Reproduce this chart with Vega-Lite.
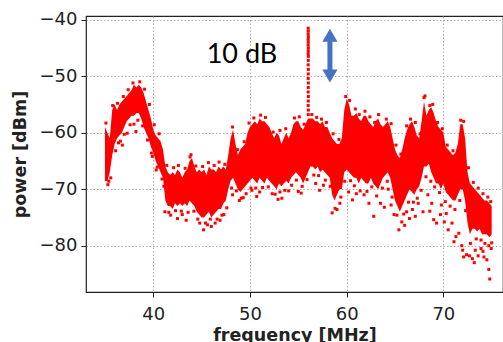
{
  "$schema": "https://vega.github.io/schema/vega-lite/v6.json",
  "width": 417,
  "height": 276,
  "autosize": "none",
  "padding": {"left": 86, "top": 16, "right": 0, "bottom": 50},
  "background": "white",
  "config": {
    "view": {"stroke": "#222222", "strokeWidth": 1.2},
    "axis": {
      "domain": false,
      "grid": true,
      "gridColor": "#b0b0b0",
      "gridDash": [1.5, 2],
      "gridWidth": 1,
      "tickColor": "#222222",
      "tickSize": 5,
      "tickWidth": 1,
      "labelFont": "DejaVu Sans",
      "labelFontSize": 18,
      "labelColor": "#222222",
      "titleFont": "DejaVu Sans",
      "titleFontSize": 17.5,
      "titleFontWeight": "bold",
      "titleColor": "#222222"
    }
  },
  "datasets": {
    "band": [
      {"f":35.0,"hi":-59,"lo":-68},{"f":35.25,"hi":-60,"lo":-68.5},{"f":35.5,"hi":-61,"lo":-67},{"f":35.75,"hi":-56,"lo":-64},
      {"f":36.0,"hi":-55,"lo":-62},{"f":36.25,"hi":-56,"lo":-61},{"f":36.5,"hi":-55,"lo":-60.5},{"f":36.75,"hi":-54.5,"lo":-60},
      {"f":37.0,"hi":-54,"lo":-59},{"f":37.25,"hi":-53.5,"lo":-58},{"f":37.5,"hi":-53,"lo":-57.5},{"f":37.75,"hi":-52.5,"lo":-57},
      {"f":38.0,"hi":-51.5,"lo":-57},{"f":38.25,"hi":-52,"lo":-56.5},{"f":38.5,"hi":-51.5,"lo":-56.5},{"f":38.75,"hi":-52,"lo":-57.5},
      {"f":39.0,"hi":-53,"lo":-59},{"f":39.25,"hi":-54.5,"lo":-60},{"f":39.5,"hi":-56,"lo":-61},{"f":39.75,"hi":-57.5,"lo":-62.5},
      {"f":40.0,"hi":-59.5,"lo":-63.5},{"f":40.25,"hi":-60.5,"lo":-65},{"f":40.5,"hi":-61,"lo":-66},{"f":40.75,"hi":-61.5,"lo":-67},
      {"f":41.0,"hi":-63,"lo":-68},{"f":41.25,"hi":-66,"lo":-72},{"f":41.5,"hi":-67,"lo":-73},{"f":41.75,"hi":-67.5,"lo":-73},
      {"f":42.0,"hi":-67,"lo":-73.5},{"f":42.25,"hi":-67.5,"lo":-72.5},{"f":42.5,"hi":-66.5,"lo":-73},{"f":42.75,"hi":-67,"lo":-72.5},
      {"f":43.0,"hi":-68,"lo":-73},{"f":43.25,"hi":-67,"lo":-72.5},{"f":43.5,"hi":-66.5,"lo":-73},{"f":43.75,"hi":-65,"lo":-72},
      {"f":44.0,"hi":-64.5,"lo":-72.5},{"f":44.25,"hi":-66,"lo":-73},{"f":44.5,"hi":-67,"lo":-74},{"f":44.75,"hi":-66.5,"lo":-74.5},
      {"f":45.0,"hi":-67,"lo":-75},{"f":45.25,"hi":-66.5,"lo":-75},{"f":45.5,"hi":-67.5,"lo":-74.5},{"f":45.75,"hi":-66,"lo":-74},
      {"f":46.0,"hi":-66.5,"lo":-75},{"f":46.25,"hi":-66.5,"lo":-74.5},{"f":46.5,"hi":-67,"lo":-74},{"f":46.75,"hi":-66,"lo":-73.5},
      {"f":47.0,"hi":-66.5,"lo":-73.5},{"f":47.25,"hi":-66,"lo":-72.5},{"f":47.5,"hi":-66.5,"lo":-72},{"f":47.75,"hi":-64,"lo":-70},
      {"f":48.0,"hi":-61,"lo":-68.5},{"f":48.25,"hi":-59.5,"lo":-68},{"f":48.5,"hi":-62,"lo":-69},{"f":48.75,"hi":-64,"lo":-70},
      {"f":49.0,"hi":-63,"lo":-70.5},{"f":49.25,"hi":-62.5,"lo":-70},{"f":49.5,"hi":-62,"lo":-69.5},{"f":49.75,"hi":-60,"lo":-69},
      {"f":50.0,"hi":-59,"lo":-68.5},{"f":50.25,"hi":-58.5,"lo":-68},{"f":50.5,"hi":-58,"lo":-68.5},{"f":50.75,"hi":-58.5,"lo":-69},
      {"f":51.0,"hi":-57.5,"lo":-68},{"f":51.25,"hi":-58,"lo":-68.5},{"f":51.5,"hi":-58,"lo":-69},{"f":51.75,"hi":-58.5,"lo":-68},
      {"f":52.0,"hi":-59,"lo":-68.5},{"f":52.25,"hi":-60,"lo":-69},{"f":52.5,"hi":-61,"lo":-69.5},{"f":52.75,"hi":-60,"lo":-70},
      {"f":53.0,"hi":-60.5,"lo":-69},{"f":53.25,"hi":-62,"lo":-69.5},{"f":53.5,"hi":-61,"lo":-69},{"f":53.75,"hi":-60,"lo":-68.5},
      {"f":54.0,"hi":-61,"lo":-69},{"f":54.25,"hi":-60,"lo":-68},{"f":54.5,"hi":-58.5,"lo":-67.5},{"f":54.75,"hi":-58,"lo":-67},
      {"f":55.0,"hi":-58,"lo":-67.5},{"f":55.25,"hi":-59,"lo":-68},{"f":55.5,"hi":-59.5,"lo":-69},{"f":55.75,"hi":-58.5,"lo":-68},
      {"f":56.0,"hi":-57.5,"lo":-67},{"f":56.25,"hi":-57.5,"lo":-66},{"f":56.5,"hi":-57.5,"lo":-66},{"f":56.75,"hi":-58,"lo":-66.5},
      {"f":57.0,"hi":-58,"lo":-66},{"f":57.25,"hi":-58.5,"lo":-67},{"f":57.5,"hi":-58,"lo":-66.5},{"f":57.75,"hi":-59,"lo":-67},
      {"f":58.0,"hi":-59,"lo":-67.5},{"f":58.25,"hi":-60,"lo":-68},{"f":58.5,"hi":-61,"lo":-71},{"f":58.75,"hi":-61.5,"lo":-72},
      {"f":59.0,"hi":-62,"lo":-71},{"f":59.25,"hi":-62,"lo":-70},{"f":59.5,"hi":-61,"lo":-70},{"f":59.75,"hi":-56,"lo":-67},
      {"f":60.0,"hi":-54,"lo":-66.5},{"f":60.25,"hi":-55,"lo":-67},{"f":60.5,"hi":-57,"lo":-67.5},{"f":60.75,"hi":-57,"lo":-68},
      {"f":61.0,"hi":-56.5,"lo":-68},{"f":61.25,"hi":-57.5,"lo":-69},{"f":61.5,"hi":-58,"lo":-68},{"f":61.75,"hi":-57,"lo":-68.5},
      {"f":62.0,"hi":-57,"lo":-69},{"f":62.25,"hi":-58,"lo":-69},{"f":62.5,"hi":-58.5,"lo":-68},{"f":62.75,"hi":-59,"lo":-69},
      {"f":63.0,"hi":-58,"lo":-69.5},{"f":63.25,"hi":-57.5,"lo":-70},{"f":63.5,"hi":-58.5,"lo":-69},{"f":63.75,"hi":-59,"lo":-68},
      {"f":64.0,"hi":-58.5,"lo":-67.5},{"f":64.25,"hi":-58,"lo":-67},{"f":64.5,"hi":-59,"lo":-68},{"f":64.75,"hi":-61,"lo":-70},
      {"f":65.0,"hi":-63,"lo":-72},{"f":65.25,"hi":-64,"lo":-73},{"f":65.5,"hi":-64.5,"lo":-74},{"f":65.75,"hi":-63,"lo":-73},
      {"f":66.0,"hi":-61,"lo":-72},{"f":66.25,"hi":-59.5,"lo":-71},{"f":66.5,"hi":-58.5,"lo":-70},{"f":66.75,"hi":-58,"lo":-70.5},
      {"f":67.0,"hi":-59,"lo":-71},{"f":67.25,"hi":-60.5,"lo":-70},{"f":67.5,"hi":-61,"lo":-69.5},{"f":67.75,"hi":-58,"lo":-68},
      {"f":68.0,"hi":-54.5,"lo":-66},{"f":68.25,"hi":-57,"lo":-66},{"f":68.5,"hi":-56,"lo":-65.5},{"f":68.75,"hi":-55.5,"lo":-67},
      {"f":69.0,"hi":-56.5,"lo":-68},{"f":69.25,"hi":-58,"lo":-69},{"f":69.5,"hi":-59,"lo":-69},{"f":69.75,"hi":-59.5,"lo":-70},
      {"f":70.0,"hi":-60,"lo":-69},{"f":70.25,"hi":-62.5,"lo":-70.5},{"f":70.5,"hi":-63,"lo":-71},{"f":70.75,"hi":-63.5,"lo":-71.5},
      {"f":71.0,"hi":-64,"lo":-72},{"f":71.25,"hi":-63.5,"lo":-72},{"f":71.5,"hi":-62,"lo":-71},{"f":71.75,"hi":-58.5,"lo":-70},
      {"f":72.0,"hi":-58.5,"lo":-70},{"f":72.25,"hi":-61,"lo":-72},{"f":72.5,"hi":-67,"lo":-76},{"f":72.75,"hi":-69,"lo":-78},
      {"f":73.0,"hi":-69.5,"lo":-77},{"f":73.25,"hi":-70,"lo":-77},{"f":73.5,"hi":-70.5,"lo":-77.5},{"f":73.75,"hi":-71,"lo":-77},
      {"f":74.0,"hi":-71.5,"lo":-78},{"f":74.25,"hi":-72,"lo":-78},{"f":74.5,"hi":-72,"lo":-78},{"f":74.75,"hi":-72.5,"lo":-78.5},
      {"f":75.0,"hi":-73,"lo":-78}
    ],
    "pts": [
      {"f":35.15,"p":-68.3},{"f":35.4,"p":-68.6},{"f":36.4,"p":-61.8},{"f":36.8,"p":-62.2},{"f":37.3,"p":-60.1},{"f":38.2,"p":-59.8},
      {"f":38.0,"p":-58.5},{"f":39.9,"p":-64.2},{"f":40.3,"p":-66.6},{"f":41.2,"p":-74},{"f":41.8,"p":-74.6},{"f":42.5,"p":-75.2},
      {"f":43.0,"p":-74.5},{"f":43.4,"p":-75.5},{"f":43.9,"p":-63.9},{"f":44.8,"p":-76},{"f":45.2,"p":-77.2},{"f":45.6,"p":-76.3},
      {"f":46.0,"p":-76.6},{"f":46.4,"p":-76},{"f":46.9,"p":-75.5},{"f":47.3,"p":-74.5},{"f":48.2,"p":-71},{"f":48.9,"p":-72},
      {"f":49.3,"p":-71.5},{"f":50.2,"p":-70.2},{"f":51.0,"p":-70.5},{"f":52.3,"p":-70.8},{"f":53.3,"p":-71.6},{"f":54.0,"p":-70.3},
      {"f":55.3,"p":-70.7},{"f":56.8,"p":-69},{"f":57.6,"p":-69.3},{"f":58.5,"p":-74.2},{"f":59.3,"p":-72.5},{"f":60.2,"p":-70.5},
      {"f":61.0,"p":-70.8},{"f":61.8,"p":-71},{"f":62.8,"p":-74.8},{"f":63.5,"p":-72.5},{"f":64.3,"p":-70},{"f":64.9,"p":-74.5},
      {"f":65.4,"p":-77.2},{"f":65.7,"p":-75.8},{"f":66.2,"p":-74},{"f":66.8,"p":-73.6},{"f":67.4,"p":-72.5},{"f":67.9,"p":-74},
      {"f":68.1,"p":-53.5},{"f":68.4,"p":-71},{"f":68.8,"p":-72.5},{"f":69.3,"p":-76},{"f":69.7,"p":-74.5},{"f":70.1,"p":-75.8},
      {"f":70.5,"p":-77.2},{"f":70.9,"p":-76},{"f":71.3,"p":-78.4},{"f":71.6,"p":-77.8},{"f":71.9,"p":-80},{"f":72.1,"p":-82},
      {"f":72.4,"p":-81.6},{"f":72.7,"p":-81.8},{"f":73.0,"p":-82.3},{"f":73.3,"p":-80.8},{"f":73.6,"p":-81.8},{"f":73.9,"p":-80.5},
      {"f":74.2,"p":-82},{"f":74.5,"p":-82.5},{"f":74.7,"p":-84.2},{"f":74.8,"p":-85.9},{"f":74.95,"p":-80.5},
      {"f":50.7,"p":-71.3},{"f":52.9,"p":-71.8},{"f":55.0,"p":-70.4},{"f":57.2,"p":-70.2},{"f":59.0,"p":-73.6},{"f":60.6,"p":-71.9},
      {"f":62.3,"p":-72.5},{"f":63.9,"p":-73.2},{"f":66.5,"p":-75.2},{"f":67.1,"p":-74.8},{"f":68.6,"p":-73.9},{"f":69.0,"p":-75.4},
      {"f":70.3,"p":-74.3},{"f":71.1,"p":-79.3},{"f":72.0,"p":-80.8},{"f":73.2,"p":-83},{"f":74.1,"p":-81},{"f":69.8,"p":-72.8},
      {"f":66.0,"p":-76.4},{"f":64.6,"p":-72.8},
      {"f":35.1,"p":-58.3},{"f":35.8,"p":-55.2},{"f":36.3,"p":-54.8},{"f":36.9,"p":-53.6},{"f":37.4,"p":-52.4},{"f":37.9,"p":-51.2},
      {"f":38.6,"p":-51},{"f":39.1,"p":-52.3},{"f":39.6,"p":-55},{"f":40.1,"p":-58.6},{"f":40.6,"p":-60.2},{"f":41.4,"p":-65.8},
      {"f":42.1,"p":-66.2},{"f":42.6,"p":-65.8},{"f":43.3,"p":-66.3},{"f":43.8,"p":-64.3},{"f":44.4,"p":-65.9},{"f":45.1,"p":-66},
      {"f":45.7,"p":-65.3},{"f":46.3,"p":-65.8},{"f":46.8,"p":-65.2},{"f":47.4,"p":-65.6},{"f":48.2,"p":-59},{"f":48.7,"p":-63},
      {"f":49.4,"p":-61.6},{"f":49.9,"p":-58.3},{"f":50.4,"p":-57.4},{"f":51.1,"p":-56.9},{"f":51.6,"p":-57.3},{"f":52.4,"p":-59.9},
      {"f":53.1,"p":-59.6},{"f":53.7,"p":-59.3},{"f":54.6,"p":-57.4},{"f":55.1,"p":-57.2},{"f":55.6,"p":-58.5},{"f":56.4,"p":-56.8},
      {"f":56.9,"p":-57.3},{"f":57.4,"p":-57.6},{"f":57.9,"p":-58.2},{"f":58.6,"p":-60.2},{"f":59.2,"p":-61.2},{"f":59.9,"p":-53.6},
      {"f":60.3,"p":-54.3},{"f":60.9,"p":-55.8},{"f":61.3,"p":-56.8},{"f":61.9,"p":-56.2},{"f":62.4,"p":-57.2},{"f":62.9,"p":-58.2},
      {"f":63.3,"p":-56.8},{"f":64.1,"p":-57.6},{"f":64.6,"p":-58.4},{"f":65.1,"p":-62.2},{"f":65.6,"p":-63.8},{"f":66.2,"p":-58.8},
      {"f":66.6,"p":-57.6},{"f":67.1,"p":-58.2},{"f":67.6,"p":-60.2},{"f":68.0,"p":-53.8},{"f":68.6,"p":-55.2},{"f":68.9,"p":-55},
      {"f":69.4,"p":-58.2},{"f":69.9,"p":-59.3},{"f":70.4,"p":-62.2},{"f":71.0,"p":-63.2},{"f":71.8,"p":-57.8},{"f":72.1,"p":-58},
      {"f":72.6,"p":-66.2},{"f":73.1,"p":-68.8},{"f":73.6,"p":-69.8},{"f":74.1,"p":-70.8},{"f":74.6,"p":-71.4},{"f":74.9,"p":-72.2},
      {"f":35.3,"p":-69.2},{"f":35.6,"p":-68},{"f":36.1,"p":-63.2},{"f":36.6,"p":-61.5},{"f":37.0,"p":-60.3},{"f":37.6,"p":-58.6},
      {"f":38.4,"p":-57.8},{"f":38.9,"p":-58.8},{"f":39.4,"p":-61.3},{"f":39.8,"p":-63.6},{"f":40.4,"p":-66.1},{"f":40.9,"p":-68.2},
      {"f":41.1,"p":-69.5},{"f":41.6,"p":-74.1},{"f":42.3,"p":-73.8},{"f":42.9,"p":-73.9},{"f":43.6,"p":-74.1},{"f":44.2,"p":-73.9},
      {"f":44.6,"p":-75.3},{"f":45.4,"p":-76},{"f":45.9,"p":-75.3},{"f":46.6,"p":-75.3},{"f":47.1,"p":-74.6},{"f":47.6,"p":-73.3},
      {"f":48.1,"p":-69.8},{"f":48.6,"p":-70.3},{"f":49.1,"p":-71.6},{"f":49.6,"p":-70.8},{"f":50.1,"p":-69.8},{"f":50.6,"p":-69.8},
      {"f":51.3,"p":-69.7},{"f":51.9,"p":-69.6},{"f":52.6,"p":-70.9},{"f":53.1,"p":-70.5},{"f":53.6,"p":-70.2},{"f":54.3,"p":-69.3},
      {"f":54.8,"p":-68.4},{"f":55.4,"p":-69.5},{"f":55.9,"p":-68.3},{"f":56.6,"p":-67.5},{"f":57.1,"p":-67.6},{"f":57.8,"p":-68.4},
      {"f":58.3,"p":-69.5},{"f":58.8,"p":-73.4},{"f":59.4,"p":-71.4},{"f":59.8,"p":-68.6},{"f":60.4,"p":-68.5},{"f":60.8,"p":-69.4},
      {"f":61.4,"p":-70.3},{"f":62.1,"p":-70.4},{"f":62.6,"p":-69.6},{"f":63.1,"p":-71.2},{"f":63.7,"p":-69.8},{"f":64.2,"p":-68.6},
      {"f":64.7,"p":-71.4},{"f":65.2,"p":-74.6},{"f":65.9,"p":-74.4},{"f":66.4,"p":-72.3},{"f":66.9,"p":-72.3},{"f":67.3,"p":-71.6},
      {"f":67.7,"p":-70.2},{"f":68.2,"p":-67.8},{"f":68.7,"p":-68.6},{"f":69.1,"p":-69.6},{"f":69.6,"p":-70.6},{"f":70.2,"p":-72.2},
      {"f":70.7,"p":-73},{"f":71.2,"p":-73.6},{"f":71.7,"p":-72},{"f":72.3,"p":-73.8},{"f":72.8,"p":-79.6},{"f":73.4,"p":-78.8},
      {"f":73.9,"p":-79},{"f":74.3,"p":-79.6},{"f":74.7,"p":-80},{"f":75.0,"p":-79.5},
      {"f":56.02,"p":-41.5},{"f":56.03,"p":-42},{"f":56.02,"p":-42.5},{"f":56.04,"p":-43},{"f":56.02,"p":-43.5},{"f":56.03,"p":-44},
      {"f":56.02,"p":-44.5},{"f":56.04,"p":-45},{"f":56.03,"p":-45.5},{"f":56.02,"p":-46},{"f":56.04,"p":-46.5},{"f":56.03,"p":-47.2},
      {"f":56.02,"p":-48},{"f":56.04,"p":-48.8},{"f":56.03,"p":-49.6},{"f":56.02,"p":-50.4},{"f":56.04,"p":-51.2},{"f":56.03,"p":-52},
      {"f":56.02,"p":-52.8},{"f":56.04,"p":-53.6},{"f":56.03,"p":-54.4},{"f":56.02,"p":-55.2},{"f":56.04,"p":-56},{"f":56.03,"p":-56.8}
    ]
  },
  "layer": [
    {
      "data": {"name": "band"},
      "mark": {"type": "area", "color": "#ff0000", "opacity": 1, "interpolate": "linear"},
      "encoding": {
        "x": {"field": "f", "type": "quantitative", "scale": {"domain": [33.04, 76.17], "nice": false, "zero": false},
          "axis": {"values": [40, 50, 60, 70], "title": "frequency [MHz]", "labelPadding": 8, "titleY": 48, "titleBaseline": "alphabetic"}},
        "y": {"field": "hi", "type": "quantitative", "scale": {"domain": [-88.2, -39.35], "nice": false, "zero": false},
          "axis": {"values": [-80, -70, -60, -50, -40], "title": "power [dBm]", "labelPadding": 4, "titleX": -66, "titleY": 138, "titleAngle": -90, "titleAlign": "center", "titleBaseline": "middle"}},
        "y2": {"field": "lo"}
      }
    },
    {
      "data": {"name": "pts"},
      "mark": {"type": "point", "filled": true, "color": "#ff0000", "size": 9, "opacity": 1, "shape": "square"},
      "encoding": {
        "x": {"field": "f", "type": "quantitative"},
        "y": {"field": "p", "type": "quantitative"}
      }
    },
    {
      "data": {"values": [{"f": 58.27, "a": -42.8, "b": -49.9}]},
      "mark": {"type": "rule", "color": "#4472c4", "strokeWidth": 5},
      "encoding": {
        "x": {"field": "f", "type": "quantitative"},
        "y": {"field": "a", "type": "quantitative"},
        "y2": {"field": "b"}
      }
    },
    {
      "data": {"values": [{"f": 58.27, "p": -42.76}]},
      "mark": {"type": "point", "filled": true, "color": "#4472c4", "opacity": 1, "shape": "triangle-up", "size": 230},
      "encoding": {
        "x": {"field": "f", "type": "quantitative"},
        "y": {"field": "p", "type": "quantitative"}
      }
    },
    {
      "data": {"values": [{"f": 58.27, "p": -49.96}]},
      "mark": {"type": "point", "filled": true, "color": "#4472c4", "opacity": 1, "shape": "triangle-down", "size": 230},
      "encoding": {
        "x": {"field": "f", "type": "quantitative"},
        "y": {"field": "p", "type": "quantitative"}
      }
    },
    {
      "data": {"values": [{"f": 49.17, "p": -46.25, "label": "10 dB"}]},
      "mark": {"type": "text", "font": "Lato", "fontSize": 27, "color": "#000000", "align": "center", "baseline": "middle"},
      "encoding": {
        "x": {"field": "f", "type": "quantitative"},
        "y": {"field": "p", "type": "quantitative"},
        "text": {"field": "label"}
      }
    }
  ]
}
